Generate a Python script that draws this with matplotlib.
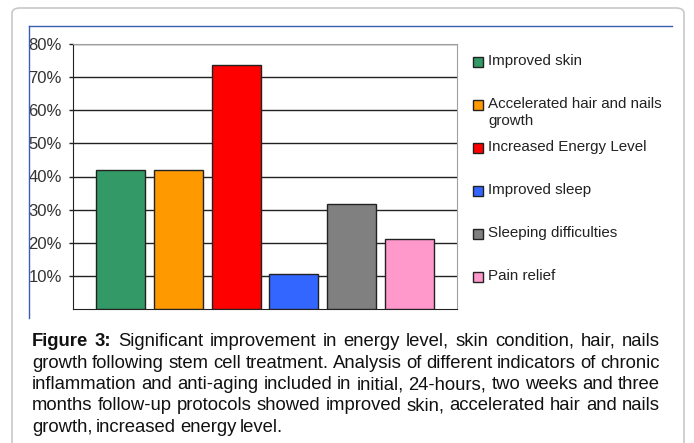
import matplotlib

matplotlib.use('Agg')
import matplotlib.pyplot as plt
from matplotlib.patches import FancyBboxPatch, Rectangle
from matplotlib.lines import Line2D

# data
labels = ['Improved skin', 'Accelerated hair and nails\ngrowth', 'Increased Energy Level',
          'Improved sleep', 'Sleeping difficulties', 'Pain relief']
values = [42.1, 42.1, 73.7, 10.5, 31.6, 21.1]
colors = ['#339966', '#FF9900', '#FF0000', '#3366FF', '#808080', '#FF99CC']
yticks = [10, 20, 30, 40, 50, 60, 70, 80]
caption = [
    'Figure 3: Significant improvement in energy level, skin condition, hair, nails',
    'growth following stem cell treatment. Analysis of different indicators of chronic',
    'inflammation and anti-aging included in initial, 24-hours, two weeks and three',
    'months follow-up protocols showed improved skin, accelerated hair and nails',
    'growth, increased energy level.',
]

W, H = 694, 443
plt.rcParams['font.family'] = ['Liberation Sans', 'DejaVu Sans']
fig = plt.figure(figsize=(W / 100, H / 100), dpi=100)


def fx(px):
    return px / W


def fy(py):
    return 1 - py / H


# outer rounded frame and blue inner frame
fig.patches.append(FancyBboxPatch((fx(12), fy(460)), fx(672), fy(8) - fy(460),
                                  boxstyle='round,pad=0,rounding_size=0.012',
                                  transform=fig.transFigure, facecolor='white',
                                  edgecolor='#c8c8c8', lw=1.2, zorder=-5))
fig.lines.append(Line2D([fx(29), fx(672)], [fy(26), fy(26)], transform=fig.transFigure,
                        color='#3a5fb0', lw=1))
fig.lines.append(Line2D([fx(29), fx(29)], [fy(26), fy(318)], transform=fig.transFigure,
                        color='#3a5fb0', lw=1))

ax = fig.add_axes([fx(73), fy(309), fx(457) - fx(73), fy(44) - fy(309)])
ax.patch.set_alpha(0)
x = list(range(len(values)))
ax.bar(x, values, width=0.85, color=colors, edgecolor='#222222', linewidth=1, zorder=3)
ax.set_xlim(-0.82, 5.82)
ax.set_ylim(0, 80)
ax.set_yticks(yticks)
ax.set_yticklabels([f'{t}%' for t in yticks], fontsize=12, color='#333333')
ax.set_xticks([])
ax.yaxis.grid(True, color='#222222', lw=1, zorder=0)
ax.set_axisbelow(True)
ax.tick_params(axis='y', length=3, width=1, color='#222222', pad=5)
ax.spines['left'].set_color('#222222')
ax.spines['bottom'].set_color('#222222')
ax.spines['top'].set_color('#a0a0a0')
ax.spines['right'].set_color('#a0a0a0')

# legend
for i, (lab, col) in enumerate(zip(labels, colors)):
    yc = 62 + 43 * i
    fig.patches.append(Rectangle((fx(473), fy(yc + 5)), fx(10), fy(yc - 5) - fy(yc + 5),
                                 transform=fig.transFigure, facecolor=col,
                                 edgecolor='#222222', lw=1))
    fig.text(fx(488), fy(yc - 8), lab, fontsize=10.9, color='#222222', va='top',
             ha='left', linespacing=1.25)

# justified caption
fig.canvas.draw()
renderer = fig.canvas.get_renderer()
x0, x1 = 32, 660
fs = 13.3
for li, line in enumerate(caption):
    words = line.split(' ')
    base = 346 + 21.5 * li
    weights = ['bold' if (li == 0 and wi < 2) else 'normal' for wi in range(len(words))]
    txts = []
    for w, wt in zip(words, weights):
        t = fig.text(0, fy(base), w, fontsize=fs, fontweight=wt, color='#111111',
                     va='baseline', ha='left')
        txts.append(t)
    widths = [t.get_window_extent(renderer).width for t in txts]
    if li < len(caption) - 1:
        gap = (x1 - x0 - sum(widths)) / (len(words) - 1)
    else:
        gap = fs * 0.28
    cur = x0
    for t, wd in zip(txts, widths):
        t.set_x(fx(cur))
        cur += wd + gap

fig.savefig('out.png', dpi=100)
